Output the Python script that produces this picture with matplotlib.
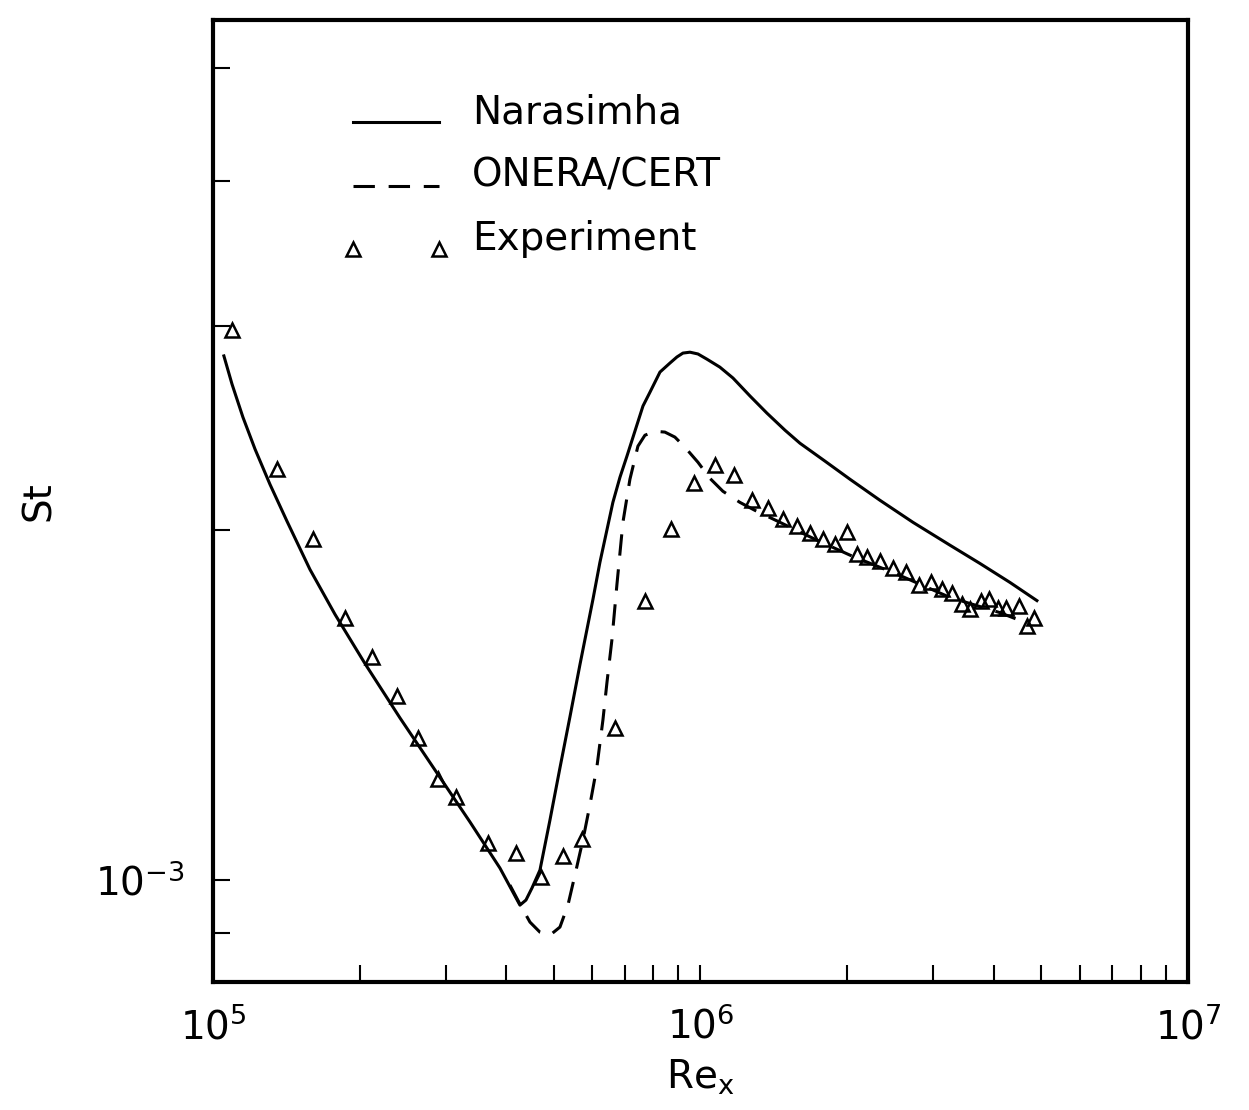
import matplotlib
matplotlib.use("Agg")
import matplotlib.pyplot as plt
import numpy as np
from matplotlib.legend_handler import HandlerLine2D
from matplotlib.lines import Line2D
from matplotlib.ticker import LogLocator, NullFormatter

# Experiment (triangles)
re_exp = [1.094e5, 1.353e5, 1.604e5, 1.866e5, 2.120e5, 2.385e5, 2.634e5, 2.894e5, 3.151e5, 3.666e5,
          4.183e5, 4.708e5, 5.223e5, 5.714e5, 6.677e5, 7.694e5, 8.699e5, 9.698e5, 1.071e6, 1.171e6,
          1.275e6, 1.375e6, 1.476e6, 1.578e6, 1.677e6, 1.784e6, 1.888e6, 1.998e6, 2.094e6, 2.196e6,
          2.334e6, 2.483e6, 2.640e6, 2.807e6, 2.971e6, 3.129e6, 3.281e6, 3.439e6, 3.571e6, 3.761e6,
          3.906e6, 4.076e6, 4.233e6, 4.501e6, 4.674e6, 4.832e6]
st_exp = [2.975e-3, 2.257e-3, 1.965e-3, 1.680e-3, 1.557e-3, 1.441e-3, 1.326e-3, 1.222e-3, 1.179e-3, 1.076e-3,
          1.055e-3, 1.006e-3, 1.049e-3, 1.085e-3, 1.352e-3, 1.737e-3, 2.004e-3, 2.196e-3, 2.276e-3, 2.231e-3,
          2.123e-3, 2.089e-3, 2.044e-3, 2.016e-3, 1.988e-3, 1.965e-3, 1.945e-3, 1.992e-3, 1.907e-3, 1.896e-3,
          1.881e-3, 1.858e-3, 1.840e-3, 1.793e-3, 1.804e-3, 1.782e-3, 1.768e-3, 1.730e-3, 1.710e-3, 1.737e-3,
          1.744e-3, 1.716e-3, 1.713e-3, 1.720e-3, 1.653e-3, 1.680e-3]

# Narasimha (solid)
re_nar = [1.053e5, 1.094e5, 1.152e5, 1.220e5, 1.309e5, 1.419e5, 1.581e5, 1.780e5, 2.050e5, 2.419e5,
          2.853e5, 3.367e5, 3.879e5, 4.263e5, 4.386e5, 4.512e5, 4.686e5, 4.912e5, 5.150e5, 5.399e5,
          5.659e5, 6.018e5, 6.220e5, 6.613e5, 6.838e5, 7.067e5, 7.623e5, 7.879e5, 8.260e5, 8.656e5,
          8.948e5, 9.207e5, 9.517e5, 9.883e5, 1.031e6, 1.096e6, 1.166e6, 1.264e6, 1.369e6, 1.491e6,
          1.600e6, 1.801e6, 2.027e6, 2.334e6, 2.729e6, 3.250e6, 3.744e6, 4.313e6, 4.900e6]
st_nar = [2.826e-3, 2.673e-3, 2.503e-3, 2.349e-3, 2.191e-3, 2.036e-3, 1.851e-3, 1.693e-3, 1.536e-3, 1.379e-3,
          1.244e-3, 1.122e-3, 1.024e-3, 9.515e-4, 9.611e-4, 9.842e-4, 1.020e-3, 1.126e-3, 1.249e-3, 1.382e-3,
          1.532e-3, 1.744e-3, 1.877e-3, 2.114e-3, 2.222e-3, 2.317e-3, 2.559e-3, 2.630e-3, 2.737e-3, 2.786e-3,
          2.820e-3, 2.842e-3, 2.847e-3, 2.837e-3, 2.808e-3, 2.764e-3, 2.705e-3, 2.610e-3, 2.523e-3, 2.439e-3,
          2.377e-3, 2.294e-3, 2.213e-3, 2.123e-3, 2.032e-3, 1.942e-3, 1.873e-3, 1.804e-3, 1.740e-3]

# ONERA/CERT (dashed)
re_onera = [4.066e5, 4.263e5, 4.470e5, 4.686e5, 4.912e5, 5.150e5, 5.348e5, 5.528e5, 5.741e5, 5.934e5,
            6.133e5, 6.310e5, 6.430e5, 6.584e5, 6.741e5, 6.934e5, 7.167e5, 7.443e5, 7.694e5, 8.066e5,
            8.455e5, 8.864e5, 9.295e5, 9.883e5, 1.046e6, 1.112e6, 1.205e6, 1.293e6, 1.456e6, 1.718e6,
            2.027e6, 2.566e6, 3.250e6, 4.115e6, 4.742e6]
st_onera = [9.901e-4, 9.535e-4, 9.200e-4, 9.018e-4, 8.964e-4, 9.110e-4, 9.516e-4, 1.010e-3, 1.083e-3, 1.161e-3,
            1.252e-3, 1.374e-3, 1.479e-3, 1.611e-3, 1.797e-3, 2.032e-3, 2.213e-3, 2.363e-3, 2.415e-3, 2.434e-3,
            2.430e-3, 2.406e-3, 2.358e-3, 2.289e-3, 2.217e-3, 2.161e-3, 2.114e-3, 2.081e-3, 2.032e-3, 1.965e-3,
            1.904e-3, 1.829e-3, 1.751e-3, 1.699e-3, 1.660e-3]


class BaselineHandler(HandlerLine2D):
    # legend samples sit on the text baseline, not at mid height
    def create_artists(self, legend, orig_handle, xdescent, ydescent, width, height, fontsize, trans):
        artists = super().create_artists(legend, orig_handle, xdescent, ydescent,
                                         width, height, fontsize, trans)
        for artist in artists:
            artist.set_ydata(np.asarray(artist.get_ydata()) - 0.33 * fontsize)
        return artists


plt.rcParams["font.family"] = "DejaVu Sans"
plt.rcParams["font.size"] = 28

fig = plt.figure(figsize=(12.49, 11.10), dpi=100)
ax = fig.add_axes([0.1705, 0.1153, 0.7806, 0.8667])

ax.plot(re_nar, st_nar, color="black", lw=2.2, label="Narasimha")
ax.plot(re_onera, st_onera, color="black", lw=2.2, ls=(0, (7, 4.5)), label="ONERA/CERT")
ax.plot(re_exp, st_exp, ls="none", marker="^", ms=10, mfc="none", mec="black", mew=1.8,
        label="Experiment")

ax.set_xscale("log")
ax.set_yscale("log")
ax.set_xlim(1e5, 1e7)
ax.set_ylim(8.17e-4, 5.5e-3)

for axis in (ax.xaxis, ax.yaxis):
    axis.set_major_locator(LogLocator(base=10))
    axis.set_minor_locator(LogLocator(base=10, subs=np.arange(2, 10)))
    axis.set_minor_formatter(NullFormatter())

ax.tick_params(which="both", direction="in", top=False, right=False, length=12, width=1.5)
ax.tick_params(axis="x", which="both", pad=18)
ax.tick_params(axis="y", which="both", pad=20)

for spine in ax.spines.values():
    spine.set_linewidth(3)

ax.set_xlabel("Re$_\\mathrm{x}$", labelpad=8)
ax.set_ylabel("St", labelpad=27)

ax.legend(loc="upper left", bbox_to_anchor=(0.1313, 0.924), frameon=False,
          handlelength=2.83, handletextpad=0.54, labelspacing=0.65, numpoints=2,
          borderaxespad=0, borderpad=0, handler_map={Line2D: BaselineHandler()})

fig.savefig("out.png", dpi=100)
